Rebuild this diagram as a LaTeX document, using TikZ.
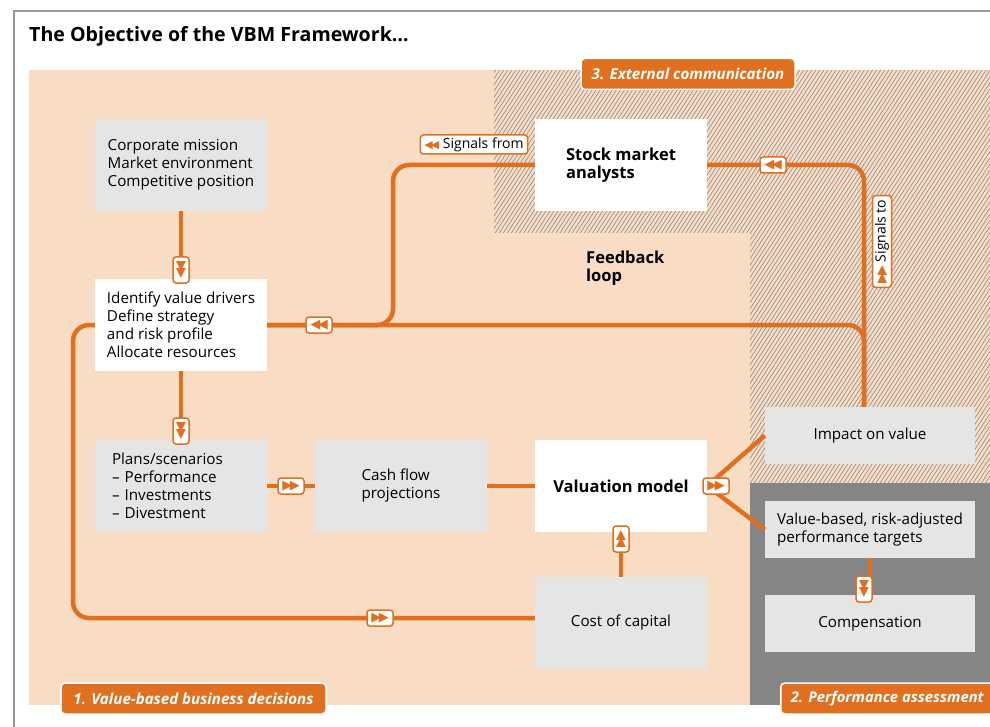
\documentclass[tikz,border=0pt]{standalone}
\usepackage{fontspec}
\setmainfont{Open Sans}
\newfontfamily\symfont{DejaVu Sans}
\usetikzlibrary{positioning,calc,patterns.meta}
\definecolor{vbmorange}{HTML}{E07020}
\definecolor{vbmpeach}{HTML}{F8DCC4}
\definecolor{vbmgrey}{HTML}{E5E5E5}
\definecolor{vbmdark}{HTML}{858585}
\definecolor{vbmhatch}{HTML}{959595}
\definecolor{vbmframe}{HTML}{999999}
\newcommand{\twotri}{{\symfont\fontsize{13}{13}\selectfont\color{vbmorange}▶\kern-2.5pt▶}}
\newcommand{\twotriback}{{\symfont\fontsize{13}{13}\selectfont\color{vbmorange}◀\kern-2.5pt◀}}
\newcommand{\tagtriback}{{\symfont\fontsize{11}{11}\selectfont\color{vbmorange}◀\kern-2pt◀}}

\begin{document}
\begin{tikzpicture}[x=1pt, y=-1pt,
            every node/.append style={font=\fontsize{15.2}{18}\selectfont},
            box/.style={minimum width=172pt, minimum height=92pt, inner sep=0pt, align=left, fill=vbmgrey},
            whitebox/.style={box, fill=white, font=\fontsize{16.5}{18}\selectfont\bfseries},
            smallbox/.style={box, minimum width=210pt, minimum height=57pt},
            flow/.style={draw=vbmorange, line width=4.5pt, rounded corners=16pt},
            badge/.style={draw=vbmorange, fill=white, line width=1.5pt, rounded corners=3pt,
                minimum width=26pt, minimum height=16pt, inner sep=0pt},
            tag/.style={draw=vbmorange, fill=white, line width=1.5pt, rounded corners=3pt,
                minimum height=19pt, inner xsep=4pt, inner ysep=0pt, font=\fontsize{14}{14}\selectfont},
            area/.style={fill=vbmorange, draw=white, line width=1.5pt, rounded corners=4pt, text=white,
                minimum height=31pt, inner sep=0pt, font=\fontsize{15.1}{15.1}\selectfont\bfseries\itshape}]
  \useasboundingbox (0,0) rectangle (990,727);
  \draw[vbmframe, line width=1.3pt] (14,727) -- (14,11) -- (990,11);
  \node[anchor=base west, inner sep=0pt, font=\fontsize{19.6}{19.6}\selectfont\bfseries] (title) at (29,42)
    {The Objective of the VBM Framework…};

  \fill[vbmpeach] (29,70) rectangle (990,705);
  \fill[vbmpeach] (494,70) -- (990,70) -- (990,483) -- (750,483) -- (750,233) -- (494,233) -- cycle;
  \fill[pattern={Lines[angle=57, distance=3.4pt, line width=0.75pt]}, pattern color=vbmhatch]
    (494,70) -- (990,70) -- (990,483) -- (750,483) -- (750,233) -- (494,233) -- cycle;
  \fill[vbmdark] (750,483) rectangle (990,705);

  \node[box] (corp) at (181,165) {Corporate mission\\Market environment\\Competitive position};
  \node[box, fill=white] (ident) at (181,325) {Identify value drivers\\Define strategy\\and risk profile\\Allocate resources};
  \node[box, text width=138pt] (plans) at (181,486) {Plans/scenarios\\– Performance\\– Investments\\– Divestment};
  \node[box] (cash) at (401,486) {Cash flow\\projections};
  \node[whitebox] (valu) at (621,486) {Valuation model};
  \node[box] (cost) at (621,623) {Cost of capital};
  \node[whitebox] (stock) at (621,165) {Stock market\\analysts};
  \node[smallbox] (impact) at (870,435.5) {Impact on value};
  \node[smallbox] (targets) at (870,529.5) {Value-based, risk-adjusted\\performance targets};
  \node[smallbox] (comp) at (870,623.5) {Compensation};
  \node[anchor=north west, align=left, inner sep=0pt, font=\fontsize{16.5}{18}\selectfont\bfseries] (loop)
    at (586,251) {Feedback\\loop};

  \coordinate (up) at ($(impact.north)+(-6,0)$);
  \coordinate (turn) at (393,0);
  \coordinate (back) at (73,0);
  \coordinate (costin) at ([yshift=5pt]cost.west);

  \draw[flow] (corp) -- (ident);
  \draw[flow] (ident) -- (plans);
  \draw[flow] (plans) -- (cash);
  \draw[flow] (cash) -- (valu);
  \draw[flow] (cost) -- (valu);
  \draw[flow] (valu.east) -- (impact.west);
  \draw[flow] (valu.east) -- (targets.west);
  \draw[flow] (targets) -- (comp);
  \draw[flow] (stock.east) -- (stock.east -| up) -- (up);
  \draw[flow] (ident.east) -- (ident.east -| up) -- (up);
  \draw[flow] (stock.west) -- (stock.west -| turn) -- (ident.east -| turn) -- (ident.east);
  \draw[flow] (ident.west) -- (ident.west -| back) -- (costin -| back) -- (costin);

  \node[badge, rotate=-90] (b1) at (181,270) {\twotri};
  \node[badge, rotate=-90] (b2) at (181,431) {\twotri};
  \node[badge] (b3) at (291,486) {\twotri};
  \node[badge, rotate=90] (b4) at (621,539) {\twotri};
  \node[badge] (b5) at (716,486) {\twotri};
  \node[badge, rotate=-90] (b6) at (864,589) {\twotri};
  \node[badge] (b7) at (773,165) {\twotriback};
  \node[badge] (b8) at (319,325) {\twotriback};
  \node[badge] (b9) at (380,618) {\twotri};

  \node[tag] (from) at (474,144.5) {\tagtriback\ Signals from};
  \node[tag, rotate=90] (to) at (882,241.5) {\twotri\ Signals to};

  \node[area, minimum width=214pt] (ext) at (688,74) {3. External communication};
  \node[area, minimum width=265pt] (dec) at (193.5,698.5) {1. Value-based business decisions};
  \node[area, anchor=west, inner xsep=10pt, font=\fontsize{14.8}{14.8}\selectfont\bfseries\itshape] (perf)
    at (780,698.5) {2. Performance assessment};
\end{tikzpicture}
\end{document}
